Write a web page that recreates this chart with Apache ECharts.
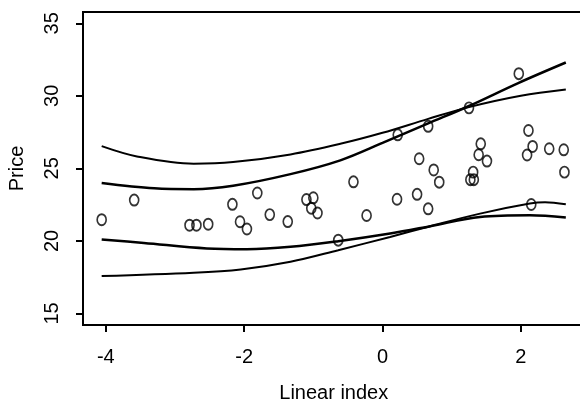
<!DOCTYPE html>
<html>
<head>
<meta charset="UTF-8">
<title>Price vs Linear index</title>
<script src="https://cdn.jsdelivr.net/npm/echarts@6/dist/echarts.min.js"></script>
<style>
  html, body { margin: 0; padding: 0; background: #fff; }
  #main { width: 580px; height: 400px; }
</style>
</head>
<body>
<div id="main"></div>
<script>
// observed points: [linear index, price]
var points = [
  [-4.06, 21.46], [-3.59, 22.81], [-2.79, 21.08], [-2.69, 21.08], [-2.52, 21.15],
  [-2.17, 22.52], [-2.06, 21.32], [-1.96, 20.82], [-1.81, 23.30], [-1.63, 21.81],
  [-1.37, 21.33], [-1.10, 22.85], [-1.00, 22.97], [-1.03, 22.25], [-0.94, 21.92],
  [-0.64, 20.05], [-0.42, 24.07], [-0.23, 21.75], [0.22, 27.31], [0.21, 22.87],
  [0.50, 23.21], [0.53, 25.66], [0.66, 27.90], [0.66, 22.21], [0.74, 24.89],
  [0.82, 24.05], [1.25, 29.17], [1.27, 24.22], [1.32, 24.22], [1.31, 24.74],
  [1.39, 25.94], [1.42, 26.69], [1.51, 25.50], [1.97, 31.53], [2.11, 27.61],
  [2.17, 26.51], [2.09, 25.92], [2.15, 22.51], [2.41, 26.35], [2.62, 26.28],
  [2.63, 24.74]
];

// band curves
var upperOuter = [
  [-4.06, 26.53], [-3.55, 25.82], [-2.73, 25.32], [-2.16, 25.43], [-1.33, 25.96],
  [-0.61, 26.69], [0.0, 27.45], [0.66, 28.41], [1.25, 29.22],
  [2.0, 30.0], [2.65, 30.43]
];
var upperMid = [
  [-4.06, 23.99], [-3.3, 23.62], [-2.73, 23.56], [-2.16, 23.80], [-1.33, 24.60],
  [-0.61, 25.55], [0.0, 26.75], [0.66, 28.10], [1.25, 29.30],
  [1.97, 30.90], [2.65, 32.30]
];
var lowerMid = [
  [-4.06, 20.10], [-3.45, 19.86], [-2.54, 19.48], [-1.96, 19.43], [-1.33, 19.59],
  [-0.64, 19.98], [0.11, 20.51], [0.69, 21.01], [1.41, 21.65], [2.13, 21.77],
  [2.65, 21.61]
];
var lowerOuter = [
  [-4.06, 17.57], [-2.73, 17.80], [-2.05, 18.03], [-1.33, 18.56], [-0.64, 19.36],
  [0.11, 20.27], [0.69, 21.01], [1.41, 21.88], [2.13, 22.57], [2.35, 22.66],
  [2.65, 22.52]
];

var xTicks = [-4, -2, 0, 2];
var yTicks = [15, 20, 25, 30, 35];

var font = 'Liberation Sans, Arial, sans-serif';

function curve(data, w) {
  return {
    type: 'line',
    data: data,
    smooth: 0.35,
    symbol: 'none',
    silent: true,
    lineStyle: { color: '#000', width: w }
  };
}

var chart = echarts.init(document.getElementById('main'), null, { renderer: 'canvas' });
chart.setOption({
  animation: false,
  backgroundColor: '#fff',
  grid: {
    left: 83, top: 12, right: -4.5, bottom: 75,
    outerBoundsMode: 'none',
    containLabel: false,
    show: true, borderColor: '#000', borderWidth: 2, backgroundColor: 'transparent'
  },
  xAxis: {
    type: 'value',
    min: -4.33, max: 2.92,
    name: 'Linear index',
    nameLocation: 'middle',
    nameGap: 58,
    nameTextStyle: { color: '#000', fontSize: 20, fontFamily: font },
    splitLine: { show: false },
    axisLine: { show: true, onZero: false, lineStyle: { color: '#000', width: 2 } },
    axisTick: { show: true, length: 7, customValues: xTicks, lineStyle: { color: '#000', width: 2 } },
    axisLabel: { customValues: xTicks, color: '#000', fontSize: 20, fontFamily: font, margin: 22 }
  },
  yAxis: {
    type: 'value',
    min: 14.2, max: 35.78,
    name: 'Price',
    nameLocation: 'middle',
    nameGap: 56,
    nameTextStyle: { color: '#000', fontSize: 20, fontFamily: font },
    splitLine: { show: false },
    axisLine: { show: true, onZero: false, lineStyle: { color: '#000', width: 2 } },
    axisTick: { show: true, length: 7, customValues: yTicks, lineStyle: { color: '#000', width: 2 } },
    axisLabel: { customValues: yTicks, rotate: 90, color: '#000', fontSize: 20, fontFamily: font, margin: 21 }
  },
  series: [
    curve(upperOuter, 2),
    curve(upperMid, 2.5),
    curve(lowerMid, 2.5),
    curve(lowerOuter, 2),
    {
      type: 'scatter',
      data: points,
      symbol: 'circle',
      symbolSize: [9, 11],
      itemStyle: { color: 'rgba(0,0,0,0)', borderColor: '#000', borderWidth: 1.8 },
      z: 5
    }
  ]
});
</script>
</body>
</html>
